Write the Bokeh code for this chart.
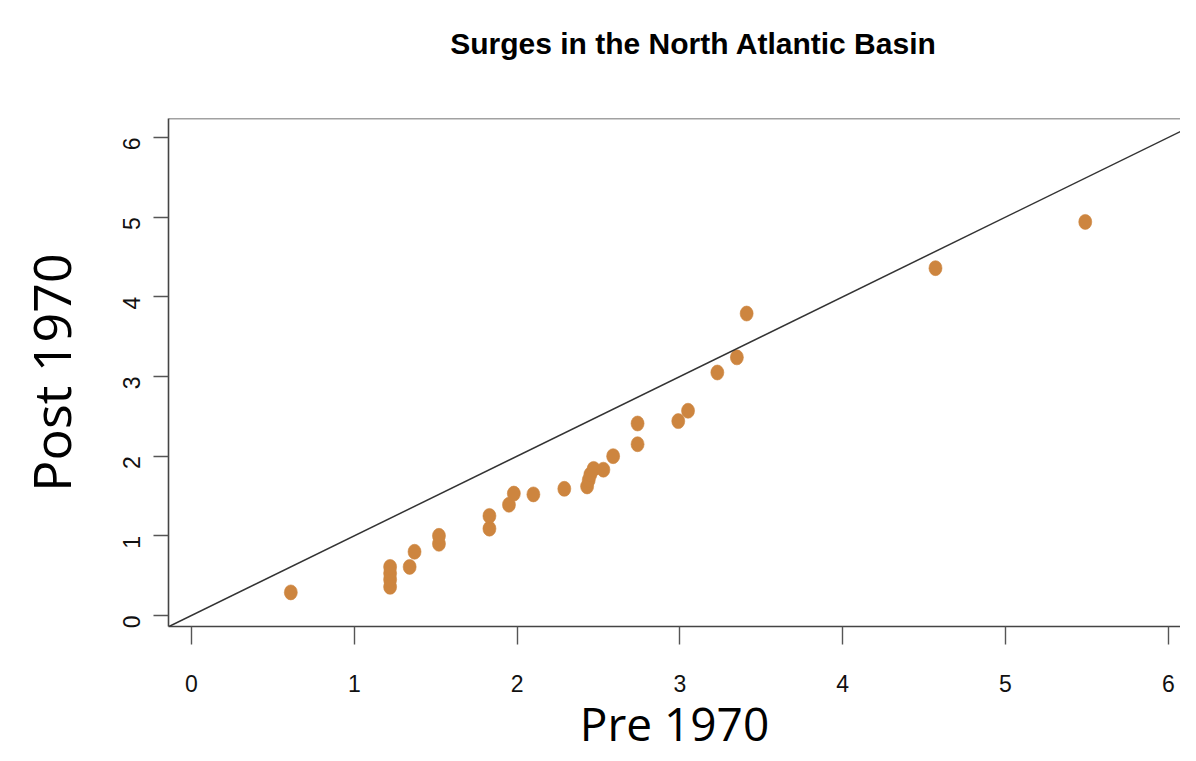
import math
from bokeh.plotting import figure
from bokeh.models import Range1d, FixedTicker, Slope, Span, Div
from bokeh.layouts import column
from bokeh.embed import file_html
from bokeh.resources import INLINE

# Data (Pre 1970 vs Post 1970 surge heights)
pre_1970 = [0.61, 1.22, 1.22, 1.22, 1.22, 1.34, 1.37, 1.52, 1.52, 1.83,
            1.83, 1.95, 1.98, 2.10, 2.29, 2.43, 2.44, 2.45, 2.47, 2.53,
            2.59, 2.74, 2.74, 2.99, 3.05, 3.23, 3.35, 3.41, 4.57, 5.49]
post_1970 = [0.29, 0.36, 0.45, 0.53, 0.61, 0.61, 0.80, 0.90, 1.00, 1.09,
             1.25, 1.39, 1.53, 1.52, 1.59, 1.62, 1.70, 1.77, 1.84, 1.83,
             2.00, 2.15, 2.41, 2.44, 2.57, 3.05, 3.24, 3.79, 4.36, 4.94]
x_ticks = [0, 1, 2, 3, 4, 5, 6]
y_ticks = [0, 1, 2, 3, 4, 5, 6]
title_text = "Surges in the North Atlantic Basin"
x_label = "Pre 1970"
y_label = "Post 1970"

X0, X1 = -0.1413, 6.075
Y0, Y1 = -0.138, 6.238

title_div = Div(text=title_text, width=1180, height=88, margin=(0, 0, 0, 0),
                styles={"font-family": "Liberation Sans", "font-size": "30px",
                        "font-weight": "bold", "color": "#000000",
                        "text-align": "center", "line-height": "88px",
                        "text-indent": "206px", "white-space": "nowrap"})

p = figure(frame_width=1012, frame_height=508,
           min_border_left=168, min_border_right=0, min_border_top=30,
           min_border_bottom=100, x_range=Range1d(X0, X1), y_range=Range1d(Y0, Y1),
           output_backend="svg", toolbar_location=None, background_fill_color="white",
           border_fill_color="white", margin=(0, 0, 0, 0))
p.outline_line_color = None
p.grid.visible = False

axis_col = "#444444"
for ax in (p.xaxis[0], p.yaxis[0]):
    ax.axis_line_color = axis_col
    ax.axis_line_width = 1.6
    ax.major_tick_line_color = "#555555"
    ax.major_tick_line_width = 1.4
    ax.major_tick_in = 0
    ax.minor_tick_line_color = None
    ax.major_label_text_font = "Liberation Sans"
    ax.major_label_text_font_size = "23px"
    ax.major_label_text_color = "#111111"
    ax.axis_label_text_font = "Open Sans"
    ax.axis_label_text_font_style = "normal"
    ax.axis_label_text_color = "#000000"

p.xaxis.ticker = FixedTicker(ticks=x_ticks)
p.yaxis.ticker = FixedTicker(ticks=y_ticks)
p.xaxis.major_tick_out = 18
p.xaxis.major_label_standoff = 30
p.yaxis.major_tick_out = 15
p.yaxis.major_label_standoff = 22
p.yaxis.major_label_orientation = math.pi / 2

p.xaxis.axis_label = x_label
p.xaxis.axis_label_text_font_size = "46px"
p.xaxis.axis_label_standoff = -3
p.yaxis.axis_label = y_label
p.yaxis.axis_label_text_font_size = "52px"
p.yaxis.axis_label_standoff = 26

p.add_layout(Span(location=Y1, dimension="width", line_color=axis_col, line_width=1.6))

p.add_layout(Slope(gradient=1, y_intercept=0, line_color="#333333", line_width=1.5))

p.ellipse(x=pre_1970, y=post_1970, width=13, height=15, width_units="screen",
          height_units="screen", fill_color="#CD853F", line_color="#CD853F",
          line_alpha=0.6)

layout = column(title_div, p, spacing=0, margin=(0, 0, 0, 0))
open("out.html", "w").write(file_html(layout, INLINE))
